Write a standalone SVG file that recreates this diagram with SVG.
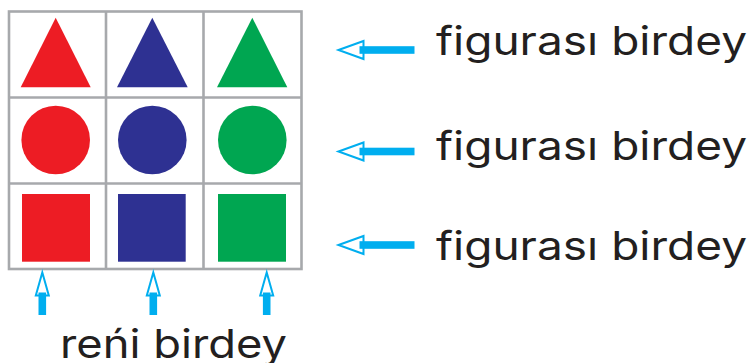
<svg xmlns="http://www.w3.org/2000/svg" xmlns:xlink="http://www.w3.org/1999/xlink" width="751" height="363" viewBox="0 0 751 363">
<style>
.grid{fill:none;stroke:#a7a9ac;stroke-width:2.6}
.red{fill:#ed1c24}.blue{fill:#2e3192}.green{fill:#00a651}
.head{fill:#fff;stroke:#00aeef;stroke-width:2}
.shaft{fill:#00aeef}
.lbl{font-family:Inter,"Noto Sans","Liberation Sans",sans-serif;font-size:39px;fill:#231f20}
</style>
<defs>
<g id="arrowL"><polygon class="head" points="0,0 25,-9 25,9"/><rect class="shaft" x="21" y="-3.8" width="55" height="7.6"/></g>
<g id="arrowU"><polygon class="head" points="0,0 -6.5,23 6.5,23"/><rect class="shaft" x="-3.8" y="20" width="7.6" height="22.5"/></g>
</defs>
<rect width="751" height="363" fill="#fff"/>
<g id="grid">
<rect class="grid" x="9" y="11.5" width="292.5" height="257.5"/>
<line class="grid" x1="106" y1="11.5" x2="106" y2="269"/>
<line class="grid" x1="203.5" y1="11.5" x2="203.5" y2="269"/>
<line class="grid" x1="9" y1="97.5" x2="301.5" y2="97.5"/>
<line class="grid" x1="9" y1="183.5" x2="301.5" y2="183.5"/>
</g>
<g id="tri-red"><polygon class="red" points="55.7,17.7 90.7,87.3 20.7,87.3"/></g>
<g id="tri-blue"><polygon class="blue" points="152.3,17.7 187.7,87.3 117,87.3"/></g>
<g id="tri-green"><polygon class="green" points="252.3,17.7 287.3,87.3 217,87.3"/></g>
<g id="circ-red"><circle class="red" cx="55.7" cy="140" r="34.3"/></g>
<g id="circ-blue"><circle class="blue" cx="152.3" cy="140" r="34.3"/></g>
<g id="circ-green"><circle class="green" cx="252.3" cy="140" r="34.3"/></g>
<g id="sq-red"><rect class="red" x="22" y="194" width="68" height="67.7"/></g>
<g id="sq-blue"><rect class="blue" x="118" y="194" width="67.7" height="67.7"/></g>
<g id="sq-green"><rect class="green" x="218" y="194" width="68" height="67.7"/></g>
<g id="connectors">
<use xlink:href="#arrowL" transform="translate(338.5,50)"/>
<use xlink:href="#arrowL" transform="translate(338.5,151.5)"/>
<use xlink:href="#arrowL" transform="translate(338.5,245)"/>
<use xlink:href="#arrowU" transform="translate(42.3,272.5)"/>
<use xlink:href="#arrowU" transform="translate(153.3,272.5)"/>
<use xlink:href="#arrowU" transform="translate(266.7,272.5)"/>
</g>
<g id="label-row1"><text class="lbl" x="436" y="54.5" textLength="311" lengthAdjust="spacingAndGlyphs">figurası birdey</text></g>
<g id="label-row2"><text class="lbl" x="436" y="159.5" textLength="311" lengthAdjust="spacingAndGlyphs">figurası birdey</text></g>
<g id="label-row3"><text class="lbl" x="436" y="260" textLength="311" lengthAdjust="spacingAndGlyphs">figurası birdey</text></g>
<g id="label-col"><text class="lbl" x="60" y="358" textLength="227" lengthAdjust="spacingAndGlyphs">reńi birdey</text></g>
</svg>
